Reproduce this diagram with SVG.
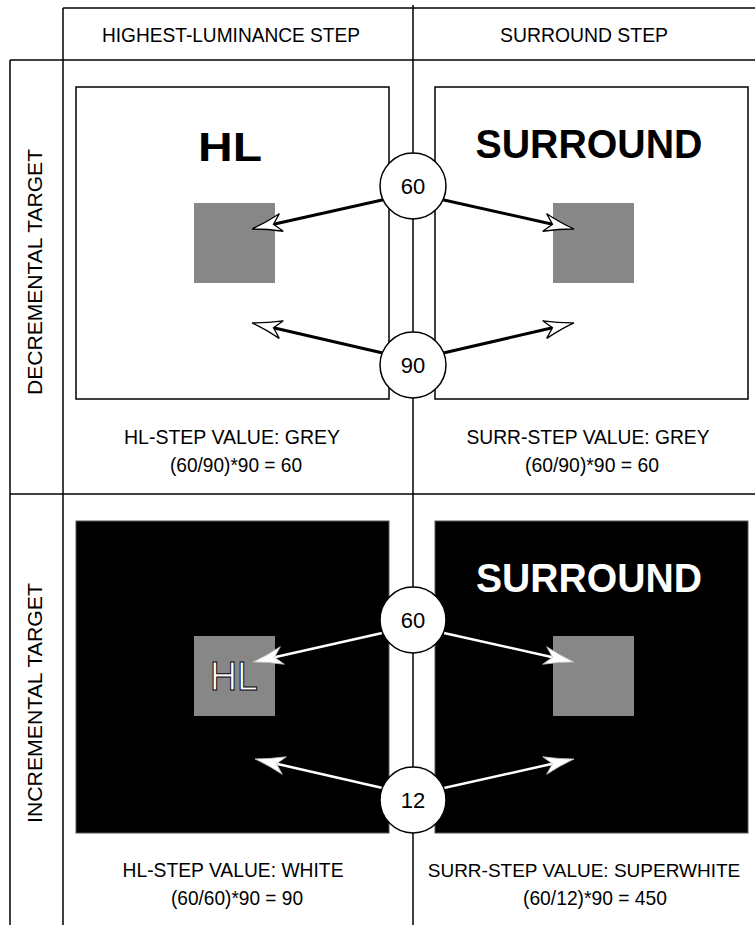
<svg xmlns="http://www.w3.org/2000/svg" width="755" height="925" viewBox="0 0 755 925">
<style>
  text { font-family: "Liberation Sans", Arial, sans-serif; }
  .lbl { font-size: 21px; fill: #000; text-anchor: middle; }
  .lbls { font-size: 19px; fill: #000; text-anchor: middle; }
  .grid { stroke: #000; stroke-width: 1.5; fill: none; }
  .wbox { fill: #fff; stroke: #000; stroke-width: 1.5; }
  .bbox { fill: #000; stroke: #555; stroke-width: 1; }
  .grey { fill: #878787; }
  .circ { fill: #fff; stroke: #000; stroke-width: 1.5; }
  .num { font-size: 22px; text-anchor: middle; fill: #000; }
  .big { font-size: 41px; font-weight: bold; text-anchor: middle; }
  .ablk { stroke: #000; stroke-width: 3; fill: none; marker-end: url(#ahB); }
  .awht { stroke: #fff; stroke-width: 2.5; fill: none; marker-end: url(#ahW); }
</style>
<defs>
  <marker id="ahB" markerUnits="userSpaceOnUse" markerWidth="40" markerHeight="30" viewBox="-12 -15 40 30" refX="0" refY="0" orient="auto" overflow="visible">
    <path d="M22,0 Q8,-3 -8,-9 L0,0 L-8,9 Q8,3 22,0 Z" fill="#fff" stroke="#000" stroke-width="1.3"/>
  </marker>
  <marker id="ahW" markerUnits="userSpaceOnUse" markerWidth="40" markerHeight="30" viewBox="-12 -15 40 30" refX="0" refY="0" orient="auto" overflow="visible">
    <path d="M22,0 Q8,-3 -8,-9 L0,0 L-8,9 Q8,3 22,0 Z" fill="#fff" stroke="#bbb" stroke-width="0.8"/>
  </marker>
</defs>

<rect x="0" y="0" width="755" height="925" fill="#fff"/>

<g id="grid">
  <line class="grid" x1="63" y1="8" x2="755" y2="8"/>
  <line class="grid" x1="10" y1="60" x2="755" y2="60"/>
  <line class="grid" x1="10" y1="494" x2="755" y2="494"/>
  <line class="grid" x1="10" y1="60" x2="10" y2="925"/>
  <line class="grid" x1="63" y1="8" x2="63" y2="925"/>
  <line class="grid" x1="413" y1="5" x2="413" y2="925"/>
</g>

<g id="headers">
  <text class="lbl" x="231" y="42" textLength="258" lengthAdjust="spacingAndGlyphs">HIGHEST-LUMINANCE STEP</text>
  <text class="lbl" x="584" y="42" textLength="168" lengthAdjust="spacingAndGlyphs">SURROUND STEP</text>
  <text class="lbl" transform="translate(42,272) rotate(-90)" textLength="246" lengthAdjust="spacingAndGlyphs">DECREMENTAL TARGET</text>
  <text class="lbl" transform="translate(42,703) rotate(-90)" textLength="240" lengthAdjust="spacingAndGlyphs">INCREMENTAL TARGET</text>
</g>

<g id="panel-dec-hl">
  <rect class="wbox" x="76" y="87" width="313" height="312"/>
  <text class="big" x="230" y="161" font-size="44" textLength="64" lengthAdjust="spacingAndGlyphs">HL</text>
  <rect class="grey" x="194" y="203" width="81" height="80"/>
</g>
<g id="panel-dec-surr">
  <rect class="wbox" x="435" y="87" width="313" height="312"/>
  <text class="big" x="589" y="158" textLength="227" lengthAdjust="spacingAndGlyphs">SURROUND</text>
  <rect class="grey" x="553" y="203" width="81" height="80"/>
</g>
<g id="panel-inc-hl">
  <rect class="bbox" x="76" y="521" width="313" height="312"/>
  <rect class="grey" x="194" y="636" width="81" height="80"/>
  <text x="234" y="690" font-size="40" text-anchor="middle" fill="#fff" stroke="#000" stroke-width="1" textLength="48" lengthAdjust="spacingAndGlyphs">HL</text>
</g>
<g id="panel-inc-surr">
  <rect class="bbox" x="435" y="521" width="313" height="312"/>
  <text class="big" x="589" y="592" fill="#fff" textLength="226" lengthAdjust="spacingAndGlyphs">SURROUND</text>
  <rect class="grey" x="553" y="636" width="81" height="80"/>
</g>

<g id="connectors">
  <path class="ablk" d="M400,196 L273.5,224.2"/>
  <path class="ablk" d="M426,196 L552.5,224.2"/>
  <path class="ablk" d="M400,357 L273.5,327.8"/>
  <path class="ablk" d="M426,357 L552.5,327.8"/>
  <path class="awht" d="M400,629 L274.5,657.2"/>
  <path class="awht" d="M426,629 L552.5,657.2"/>
  <path class="awht" d="M400,792 L276.5,763.8"/>
  <path class="awht" d="M426,792 L552.5,763.8"/>
</g>

<g id="c60a"><circle class="circ" cx="413" cy="186" r="33"/><text class="num" x="413" y="194">60</text></g>
<g id="c90"><circle class="circ" cx="413" cy="365" r="33"/><text class="num" x="413" y="373">90</text></g>
<g id="c60b"><circle class="circ" cx="413" cy="620" r="33"/><text class="num" x="413" y="628">60</text></g>
<g id="c12"><circle class="circ" cx="413" cy="800" r="33"/><text class="num" x="413" y="808">12</text></g>

<g id="labels">
  <text class="lbl" x="232" y="444" textLength="216" lengthAdjust="spacingAndGlyphs">HL-STEP VALUE: GREY</text>
  <text class="lbl" x="236" y="472" textLength="132" lengthAdjust="spacingAndGlyphs">(60/90)*90 = 60</text>
  <text class="lbl" x="588" y="444" textLength="243" lengthAdjust="spacingAndGlyphs">SURR-STEP VALUE: GREY</text>
  <text class="lbl" x="592" y="472" textLength="134" lengthAdjust="spacingAndGlyphs">(60/90)*90 = 60</text>
  <text class="lbl" x="233" y="877" textLength="221" lengthAdjust="spacingAndGlyphs">HL-STEP VALUE: WHITE</text>
  <text class="lbl" x="237" y="905" textLength="132" lengthAdjust="spacingAndGlyphs">(60/60)*90 = 90</text>
  <text class="lbls" x="584" y="877">SURR-STEP VALUE: SUPERWHITE</text>
  <text class="lbl" x="595" y="905" textLength="144" lengthAdjust="spacingAndGlyphs">(60/12)*90 = 450</text>
</g>
</svg>
